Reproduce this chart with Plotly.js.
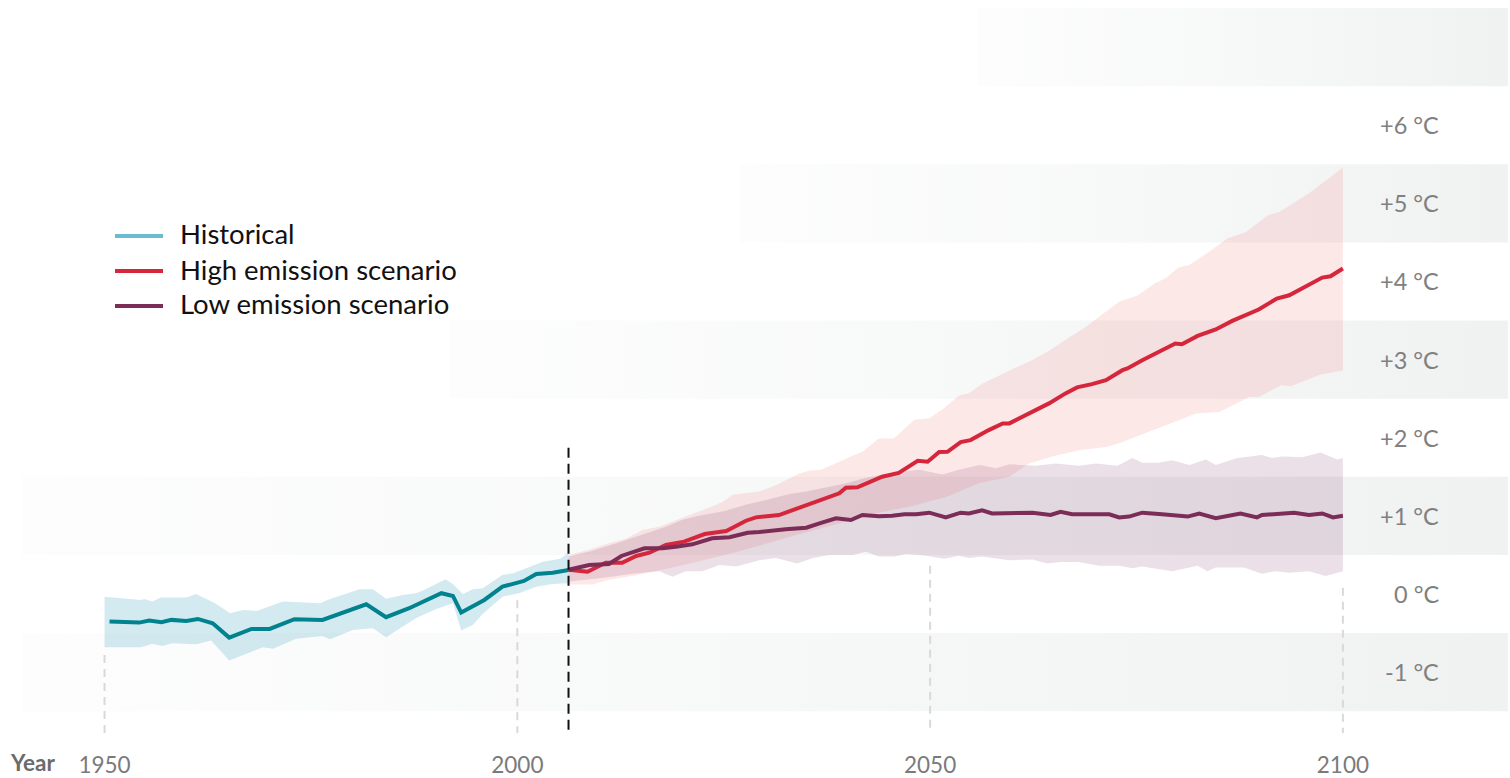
<!DOCTYPE html>
<html>
<head>
<meta charset="utf-8">
<script src="https://cdn.plot.ly/plotly-3.0.1.min.js"></script>
<style>
  html, body { margin: 0; padding: 0; background: #ffffff; }
  #chart { width: 1510px; height: 778px; }
</style>
</head>
<body>
<div id="chart"></div>
<script>
// ---------------- DATA ----------------
// Historical (observed) mean line
const histYears = [1950.6, 1954.2, 1955.4, 1956.9, 1958.1, 1959.9, 1961.3, 1963.1, 1965.1, 1967.8, 1970.0, 1973.0, 1976.4, 1981.7, 1984.1, 1986.9, 1990.8, 1992.2, 1993.2, 1996.0, 1998.2, 2000.8, 2002.3, 2004.3, 2006.2];
const histValues = [-0.354, -0.367, -0.341, -0.362, -0.332, -0.345, -0.32, -0.375, -0.559, -0.448, -0.448, -0.324, -0.332, -0.132, -0.298, -0.183, 0.009, -0.026, -0.239, -0.077, 0.093, 0.166, 0.256, 0.272, 0.307];
// Historical range
const histUpperYears = [1950.0, 1954.4, 1954.8, 1955.8, 1956.8, 1959.9, 1961.1, 1963.4, 1965.2, 1966.8, 1968.4, 1971.6, 1976.1, 1977.3, 1980.9, 1982.5, 1984.1, 1986.1, 1987.7, 1988.5, 1991.3, 1992.2, 1993.4, 1994.6, 1995.8, 1998.2, 1999.5, 2001.9, 2003.1, 2005.2, 2006.2];
const histUpper = [-0.035, -0.077, -0.064, -0.098, -0.047, -0.047, 0.0, -0.119, -0.247, -0.205, -0.217, -0.098, -0.119, -0.064, 0.06, 0.06, -0.06, -0.013, 0.009, 0.042, 0.188, 0.128, 0.0, 0.06, 0.073, 0.243, 0.265, 0.358, 0.413, 0.45, 0.53];
const histLowerYears = [1950.0, 1954.4, 1955.8, 1957.0, 1958.2, 1961.1, 1962.9, 1965.1, 1969.2, 1970.4, 1973.2, 1976.4, 1977.3, 1980.1, 1982.5, 1984.1, 1986.1, 1987.7, 1990.1, 1992.2, 1993.2, 1994.6, 1995.8, 1998.2, 2000.2, 2002.3, 2004.3, 2006.2];
const histLower = [-0.682, -0.682, -0.639, -0.665, -0.631, -0.644, -0.597, -0.853, -0.682, -0.70, -0.572, -0.537, -0.58, -0.46, -0.439, -0.554, -0.418, -0.311, -0.196, -0.119, -0.469, -0.396, -0.256, -0.035, 0.009, 0.093, 0.128, 0.137];

// High emission scenario
const highYears = [2006.2, 2008.5, 2010.7, 2012.7, 2014.4, 2016.0, 2018.0, 2020.2, 2022.7, 2025.3, 2027.7, 2028.9, 2031.7, 2035.0, 2039.0, 2039.8, 2041.2, 2044.2, 2046.2, 2048.5, 2049.7, 2051.1, 2052.1, 2053.7, 2054.9, 2057.1, 2058.8, 2059.6, 2062.0, 2064.4, 2066.4, 2067.8, 2069.6, 2071.3, 2073.3, 2073.9, 2075.7, 2077.7, 2079.7, 2080.5, 2082.4, 2084.6, 2086.6, 2089.8, 2092.0, 2093.5, 2095.9, 2097.5, 2098.5, 2100.0];
const highValues = [0.31, 0.285, 0.40, 0.40, 0.486, 0.528, 0.627, 0.669, 0.767, 0.806, 0.937, 0.98, 1.01, 1.138, 1.288, 1.36, 1.365, 1.50, 1.55, 1.705, 1.692, 1.816, 1.82, 1.944, 1.969, 2.097, 2.183, 2.183, 2.311, 2.439, 2.567, 2.644, 2.686, 2.737, 2.864, 2.886, 2.992, 3.098, 3.206, 3.197, 3.303, 3.385, 3.495, 3.64, 3.781, 3.823, 3.951, 4.049, 4.066, 4.165];
const highUpperYears = [2006.2, 2009.1, 2011.1, 2013.2, 2015.2, 2017.2, 2020.4, 2022.0, 2023.6, 2024.9, 2026.1, 2029.3, 2031.3, 2034.1, 2035.4, 2036.8, 2038.6, 2040.2, 2041.8, 2043.8, 2045.6, 2048.1, 2049.9, 2051.5, 2053.5, 2054.7, 2056.3, 2058.2, 2060.0, 2062.1, 2064.5, 2066.8, 2068.9, 2070.5, 2071.7, 2072.9, 2075.1, 2077.3, 2078.5, 2080.1, 2081.4, 2083.8, 2086.0, 2088.2, 2091.0, 2092.3, 2095.9, 2097.9, 2100.0];
const highUpper = [0.50, 0.58, 0.65, 0.71, 0.82, 0.86, 0.99, 1.05, 1.12, 1.18, 1.27, 1.31, 1.39, 1.54, 1.58, 1.59, 1.68, 1.75, 1.82, 1.99, 1.99, 2.23, 2.25, 2.36, 2.54, 2.57, 2.69, 2.79, 2.88, 2.98, 3.12, 3.28, 3.42, 3.55, 3.65, 3.74, 3.82, 3.98, 4.04, 4.18, 4.21, 4.38, 4.55, 4.63, 4.85, 4.89, 5.13, 5.29, 5.46];
const highLowerYears = [2006.2, 2009.1, 2011.0, 2014.4, 2018.0, 2022.0, 2026.0, 2030.0, 2034.0, 2038.0, 2041.0, 2043.8, 2048.0, 2051.9, 2056.0, 2059.6, 2062.0, 2064.8, 2068.0, 2071.3, 2072.9, 2076.0, 2079.0, 2081.0, 2082.2, 2085.0, 2087.0, 2088.6, 2089.8, 2092.5, 2093.7, 2095.1, 2097.3, 2100.0];
const highLower = [0.12, 0.12, 0.18, 0.24, 0.32, 0.42, 0.52, 0.64, 0.76, 0.88, 0.96, 1.04, 1.13, 1.24, 1.42, 1.50, 1.67, 1.76, 1.84, 1.88, 1.93, 2.05, 2.18, 2.26, 2.31, 2.33, 2.43, 2.52, 2.52, 2.67, 2.66, 2.72, 2.81, 2.86];

// Low emission scenario
const lowYears = [2006.2, 2008.7, 2011.1, 2012.6, 2015.4, 2017.6, 2019.2, 2021.2, 2023.6, 2025.7, 2027.9, 2029.3, 2032.5, 2035.0, 2036.6, 2038.6, 2040.4, 2041.8, 2043.8, 2045.4, 2046.9, 2048.3, 2049.9, 2051.9, 2053.7, 2054.7, 2056.3, 2057.5, 2062.4, 2064.6, 2065.8, 2067.2, 2071.7, 2072.9, 2074.1, 2075.7, 2078.1, 2081.2, 2082.6, 2084.6, 2087.6, 2089.6, 2090.2, 2092.3, 2094.1, 2095.9, 2097.5, 2098.8, 2100.0];
const lowValues = [0.31, 0.371, 0.384, 0.486, 0.584, 0.584, 0.605, 0.635, 0.712, 0.725, 0.784, 0.793, 0.827, 0.848, 0.904, 0.968, 0.946, 1.01, 0.995, 1.00, 1.02, 1.02, 1.04, 0.98, 1.04, 1.03, 1.07, 1.03, 1.04, 1.01, 1.05, 1.02, 1.02, 0.98, 0.99, 1.04, 1.02, 0.99, 1.03, 0.97, 1.03, 0.98, 1.01, 1.03, 1.04, 1.01, 1.03, 0.98, 1.00];
const lowUpperYears = [2006.2, 2009.0, 2012.0, 2014.0, 2016.0, 2018.0, 2020.0, 2022.0, 2025.0, 2028.0, 2030.0, 2033.0, 2035.0, 2038.0, 2040.0, 2042.0, 2043.8, 2046.2, 2048.7, 2051.5, 2053.5, 2056.0, 2058.0, 2059.6, 2062.8, 2065.2, 2068.0, 2070.1, 2072.7, 2074.5, 2075.7, 2077.7, 2079.3, 2081.4, 2083.4, 2084.6, 2087.2, 2090.2, 2091.4, 2092.7, 2095.1, 2097.3, 2099.3, 2100.0];
const lowUpper = [0.48, 0.55, 0.65, 0.72, 0.78, 0.86, 0.95, 1.0, 1.06, 1.15, 1.2, 1.28, 1.31, 1.38, 1.42, 1.48, 1.52, 1.56, 1.59, 1.53, 1.59, 1.65, 1.61, 1.66, 1.64, 1.67, 1.64, 1.67, 1.64, 1.74, 1.68, 1.68, 1.71, 1.65, 1.72, 1.65, 1.74, 1.78, 1.74, 1.76, 1.75, 1.81, 1.72, 1.74];
const lowLowerYears = [2006.2, 2010.0, 2014.0, 2016.0, 2017.2, 2018.8, 2020.4, 2022.4, 2024.5, 2026.5, 2029.3, 2031.3, 2033.9, 2035.8, 2037.8, 2040.6, 2042.2, 2043.8, 2045.8, 2047.1, 2049.5, 2051.7, 2053.5, 2054.7, 2056.3, 2059.6, 2062.4, 2064.2, 2065.8, 2068.0, 2070.5, 2072.9, 2074.5, 2075.7, 2079.3, 2082.4, 2083.6, 2084.6, 2088.0, 2090.2, 2091.8, 2093.5, 2095.9, 2097.9, 2100.0];
const lowLower = [0.16, 0.2, 0.26, 0.28, 0.29, 0.22, 0.29, 0.29, 0.37, 0.35, 0.43, 0.46, 0.39, 0.46, 0.50, 0.50, 0.54, 0.48, 0.48, 0.51, 0.49, 0.45, 0.49, 0.46, 0.48, 0.43, 0.44, 0.39, 0.41, 0.41, 0.36, 0.36, 0.33, 0.35, 0.29, 0.36, 0.29, 0.34, 0.34, 0.26, 0.29, 0.27, 0.29, 0.23, 0.29];

// Background temperature stripes: [low, high, start year]
const stripeLows = [-1.5, 0.5, 2.5, 4.5, 6.5];
const stripeHighs = [-0.5, 1.5, 3.5, 5.5, 7.5];
const stripeStarts = [1940, 1940, 1991.8, 2027, 2055.7];

// Axis ticks & labels
const xTickVals = [1950, 2000, 2050, 2100];
const xTickText = ['1950', '2000', '2050', '2100'];
const xTickLineTops = [-0.78, -0.08, 0.36, 0.08];
const yLabelVals = [6, 5, 4, 3, 2, 1, 0, -1];
const yLabelText = ['+6 °C', '+5 °C', '+4 °C', '+3 °C', '+2 °C', '+1 °C', '0 °C', '-1 °C'];
const splitYear = 2006.2;
const splitTop = 1.87;

// Legend
const legendLabels = ['Historical', 'High emission scenario', 'Low emission scenario'];
const legendColors = ['#6bbcd2', '#d6263b', '#7b2c57'];

// ---------------- CHART ----------------
const X_MIN = 1940, X_MAX = 2120, Y_MIN = -1.78, Y_MAX = 7.5;
const FONT = 'Lato, "Open Sans", sans-serif';

function band(xu, yu, xl, yl, color) {
  return {
    type: 'scatter', mode: 'lines',
    x: xu.concat(xl.slice().reverse()),
    y: yu.concat(yl.slice().reverse()),
    fill: 'toself', fillcolor: color,
    line: { width: 0 }, hoverinfo: 'skip', showlegend: false
  };
}

const traces = [];
stripeLows.forEach((lo, i) => {
  const hi = stripeHighs[i], s = stripeStarts[i];
  traces.push({
    type: 'scatter', mode: 'lines',
    x: [s, X_MAX, X_MAX, s, s],
    y: [lo, lo, hi, hi, lo],
    fill: 'toself',
    fillcolor: '#f4f5f5',
    fillgradient: {
      type: 'horizontal',
      colorscale: [[0, 'rgb(253,253,253)'], [0.5, 'rgb(247,248,248)'], [1, 'rgb(240,241,241)']],
      start: s, stop: X_MAX
    },
    line: { width: 0 }, hoverinfo: 'skip', showlegend: false
  });
});

traces.push(band(histUpperYears, histUpper, histLowerYears, histLower, 'rgba(100,180,205,0.28)'));
traces.push(band(highUpperYears, highUpper, highLowerYears, highLower, 'rgba(245,140,140,0.2)'));
traces.push(band(lowUpperYears, lowUpper, lowLowerYears, lowLower, 'rgba(120,50,100,0.15)'));

traces.push({ type: 'scatter', mode: 'lines', x: histYears, y: histValues,
  line: { color: '#00838f', width: 4 }, hoverinfo: 'skip', showlegend: false });
traces.push({ type: 'scatter', mode: 'lines', x: highYears, y: highValues,
  line: { color: '#d6263b', width: 4 }, hoverinfo: 'skip', showlegend: false });
traces.push({ type: 'scatter', mode: 'lines', x: lowYears, y: lowValues,
  line: { color: '#7b2c57', width: 4 }, hoverinfo: 'skip', showlegend: false });

const shapes = [];
xTickVals.forEach((v, i) => {
  shapes.push({ type: 'line', xref: 'x', yref: 'y', x0: v, x1: v, y0: xTickLineTops[i], y1: Y_MIN,
    line: { color: '#d9d9d9', width: 2, dash: '8px,6px' } });
});
shapes.push({ type: 'line', xref: 'x', yref: 'y', x0: splitYear, x1: splitYear, y0: splitTop, y1: Y_MIN,
  line: { color: '#111111', width: 2, dash: '10px,6px' } });

// legend (drawn by hand)
const legX0 = 0.0626, legX1 = 0.0949, legTextX = 0.1050;
const legY = [0.6883, 0.6400, 0.5918];
const annotations = [];
legendLabels.forEach((lab, i) => {
  shapes.push({ type: 'line', xref: 'paper', yref: 'paper', x0: legX0, x1: legX1, y0: legY[i] - 0.0028, y1: legY[i] - 0.0028,
    line: { color: legendColors[i], width: 4 } });
  annotations.push({ xref: 'paper', yref: 'paper', x: legTextX, y: legY[i], xanchor: 'left', yanchor: 'middle',
    text: lab, showarrow: false, font: { family: FONT, size: 27.5, color: '#111111' } });
});

yLabelVals.forEach((v, i) => {
  annotations.push({ xref: 'x', yref: 'y', x: 2111.9, y: v, xanchor: 'right', yanchor: 'middle',
    text: yLabelText[i], showarrow: false, font: { family: FONT, size: 23.5, color: '#808080' } });
});
annotations.push({ xref: 'paper', yref: 'paper', x: -0.0095, y: -0.041, xanchor: 'left', yanchor: 'middle',
  text: '<b>Year</b>', showarrow: false, font: { family: FONT, size: 22.5, color: '#6b6b6b' } });

const layout = {
  width: 1510, height: 778,
  margin: { l: 22, r: 2, t: 8, b: 45 },
  paper_bgcolor: '#ffffff', plot_bgcolor: '#ffffff',
  showlegend: false,
  xaxis: {
    range: [X_MIN, X_MAX], showgrid: false, zeroline: false, showline: false,
    tickmode: 'array', tickvals: xTickVals, ticktext: xTickText, ticks: '',
    ticklabelstandoff: 16,
    tickfont: { family: FONT, size: 22.5, color: '#7a7a7a' }, fixedrange: true
  },
  yaxis: { range: [Y_MIN, Y_MAX], visible: false, fixedrange: true },
  shapes: shapes,
  annotations: annotations
};

Plotly.newPlot('chart', traces, layout, { staticPlot: true, displayModeBar: false });
</script>
</body>
</html>
